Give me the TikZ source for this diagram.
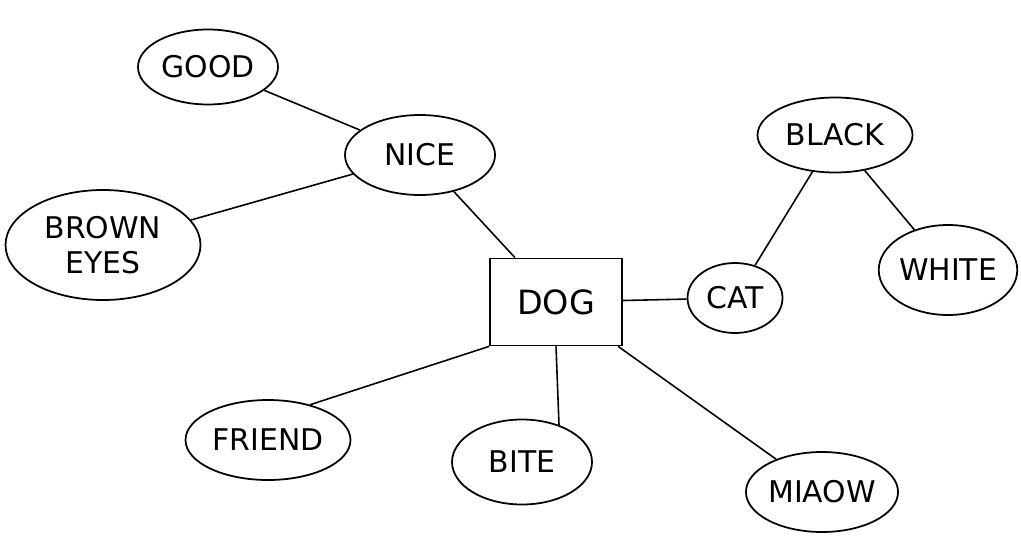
\documentclass[tikz,border=0pt]{standalone}
\usepackage{fontspec}
\setmainfont{DejaVu Sans}
\usetikzlibrary{shapes.geometric}

\begin{document}
\begin{tikzpicture}[
  idea/.style={ellipse, draw, line width=1pt, inner sep=0pt, font=\fontsize{17}{20}\selectfont, align=center},
  core/.style={rectangle, draw, line width=1pt, minimum width=2.64cm, minimum height=1.74cm, font=\fontsize{19}{22}\selectfont},
  link/.style={line width=0.9pt}
]
\useasboundingbox (0,0) rectangle (20.42,-10.8);
\node[core] (dog) at (11.12,-6.04) {DOG};
\node[idea, minimum width=2.8cm, minimum height=1.5cm] (good) at (4.16,-1.34) {GOOD};
\node[idea, minimum width=3.0cm, minimum height=1.6cm] (nice) at (8.4,-3.1) {NICE};
\node[idea, minimum width=3.9cm, minimum height=2.2cm] (brown) at (2.06,-4.9) {BROWN\\EYES};
\node[idea, minimum width=1.9cm, minimum height=1.4cm] (cat) at (14.7,-5.96) {CAT};
\node[idea, minimum width=3.1cm, minimum height=1.5cm] (black) at (16.7,-2.7) {BLACK};
\node[idea, minimum width=2.4cm, minimum height=1.8cm] (white) at (18.96,-5.4) {WHITE};
\node[idea, minimum width=3.3cm, minimum height=1.6cm] (friend) at (5.36,-8.8) {FRIEND};
\node[idea, minimum width=2.8cm, minimum height=1.7cm] (bite) at (10.44,-9.24) {BITE};
\node[idea, minimum width=2.9cm, minimum height=1.6cm] (miaow) at (16.44,-9.84) {MIAOW};

\draw[link] (good) -- (nice);
\draw[link] (nice) -- (brown);
\draw[link] (nice) -- (dog);
\draw[link] (dog) -- (cat);
\draw[link] (cat) -- (black);
\draw[link] (black) -- (white);
\draw[link] (dog.south west) -- (friend.40);
\draw[link] (dog.south) -- (bite.45);
\draw[link] (dog) -- (miaow);
\end{tikzpicture}
\end{document}
